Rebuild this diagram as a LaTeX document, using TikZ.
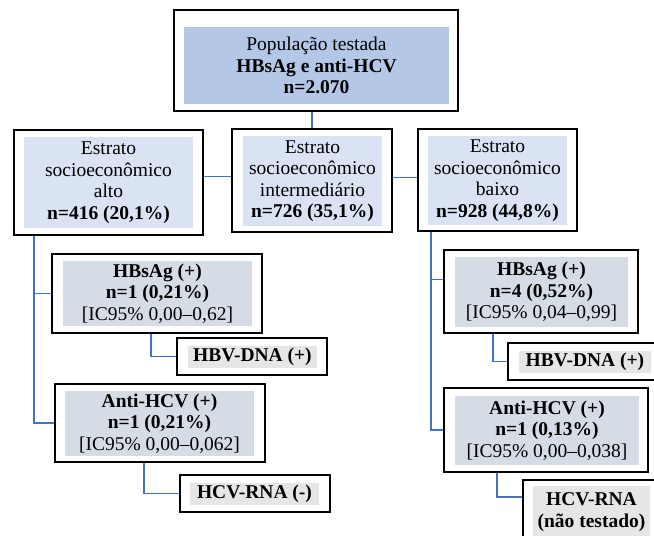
\documentclass[tikz,border=0pt]{standalone}
\usepackage{fontspec}
\setmainfont{Liberation Serif}
\definecolor{topfill}{HTML}{B4C7E7}
\definecolor{strfill}{HTML}{DAE3F3}
\definecolor{testfill}{HTML}{D6DCE5}
\definecolor{resfill}{HTML}{E7E6E6}
\definecolor{connblue}{HTML}{4472C4}
\tikzset{
  outerbox/.style={draw=black, line width=1.8pt, inner sep=0pt},
  innerbox/.style={inner sep=0pt, align=center, font=\fontsize{19.5}{21.5}\selectfont},
  conn/.style={draw=connblue, line width=1.3pt}
}
\begin{document}
\begin{tikzpicture}[x=1pt,y=-1pt]
\useasboundingbox (0,0) rectangle (654,536);
\clip (0,0) rectangle (654,536);
% outer boxes
\node[outerbox, minimum width=284pt, minimum height=101pt] (top) at (316,60.5) {};
\node[outerbox, minimum width=189pt, minimum height=105pt] (alto) at (108.5,182.5) {};
\node[outerbox, minimum width=160pt, minimum height=103pt] (mid) at (312,180.5) {};
\node[outerbox, minimum width=159pt, minimum height=102pt] (baixo) at (497.5,180) {};
\node[outerbox, minimum width=210pt, minimum height=79pt] (hbsL) at (157,293.5) {};
\node[outerbox, minimum width=150pt, minimum height=37pt] (hbvL) at (252,356.5) {};
\node[outerbox, minimum width=210pt, minimum height=78pt] (antiL) at (160,423) {};
\node[outerbox, minimum width=150pt, minimum height=37pt] (rnaL) at (255,493.5) {};
\node[outerbox, minimum width=194pt, minimum height=83pt] (hbsR) at (541,291.5) {};
\node[outerbox, minimum width=154pt, minimum height=37pt] (hbvR) at (585,361.5) {};
\node[outerbox, minimum width=204pt, minimum height=84pt] (antiR) at (546,430) {};
\node[outerbox, minimum width=137pt, minimum height=68pt] (rnaR) at (591.5,514) {};
% inner filled boxes with text
\node[innerbox, fill=topfill, minimum width=265pt, minimum height=77pt] (topi) at (316.5,65.5)
  {População testada\\\textbf{HBsAg e anti-HCV}\\\textbf{n=2.070}};
\node[innerbox, fill=strfill, minimum width=169pt, minimum height=91pt] (altoi) at (108.5,182.5)
  {Estrato\\socioeconômico\\alto\\\textbf{n=416 (20,1\%)}};
\node[innerbox, fill=strfill, minimum width=139pt, minimum height=90pt] (midi) at (312.5,181)
  {Estrato\\socioeconômico\\intermediário\\\textbf{n=726 (35,1\%)}};
\node[innerbox, fill=strfill, minimum width=139pt, minimum height=89pt] (baixoi) at (497.5,180.5)
  {Estrato\\socioeconômico\\baixo\\\textbf{n=928 (44,8\%)}};
\node[innerbox, fill=testfill, minimum width=189pt, minimum height=65pt] (hbsLi) at (157.5,293.5)
  {\textbf{HBsAg (+)}\\\textbf{n=1 (0,21\%)}\\{[}IC95\% 0,00–0,62{]}};
\node[innerbox, fill=resfill, minimum width=129pt, minimum height=22pt] (hbvLi) at (252.5,357)
  {\textbf{HBV-DNA (+)}};
\node[innerbox, fill=testfill, minimum width=189pt, minimum height=65pt] (antiLi) at (159.5,423.5)
  {\textbf{Anti-HCV (+)}\\\textbf{n=1 (0,21\%)}\\{[}IC95\% 0,00–0,062{]}};
\node[innerbox, fill=resfill, minimum width=129pt, minimum height=22pt] (rnaLi) at (254.5,494)
  {\textbf{HCV-RNA (-)}};
\node[innerbox, fill=testfill, minimum width=173pt, minimum height=70pt] (hbsRi) at (541.5,292)
  {\textbf{HBsAg (+)}\\\textbf{n=4 (0,52\%)}\\{[}IC95\% 0,04–0,99{]}};
\node[innerbox, fill=resfill, minimum width=132pt, minimum height=22pt] (hbvRi) at (585,362)
  {\textbf{HBV-DNA (+)}};
\node[innerbox, fill=testfill, minimum width=184pt, minimum height=69pt] (antiRi) at (547,430.5)
  {\textbf{Anti-HCV (+)}\\\textbf{n=1 (0,13\%)}\\{[}IC95\% 0,00–0,038{]}};
\node[innerbox, fill=resfill, minimum width=117pt, minimum height=52pt] (rnaRi) at (591.5,512)
  {\textbf{HCV-RNA}\\\textbf{(não testado)}};
% connectors
\draw[conn] (top.south -| mid.north) -- (mid.north);
\path ([yshift=6pt]alto.east) coordinate (ae);
\draw[conn] (ae) -- (ae -| mid.west);
\path ([yshift=3pt]mid.east) coordinate (me);
\draw[conn] (me) -- (me -| baixo.west);
\coordinate (lv) at ([xshift=-74.5pt]alto.south);
\draw[conn] (lv) |- (antiL.west);
\draw[conn] (lv |- hbsL.west) -- (hbsL.west);
\draw[conn] ([xshift=-6pt]hbsL.south) |- (hbvL.west);
\draw[conn] ([xshift=-16pt]antiL.south) |- (rnaL.west);
\coordinate (rv) at ([xshift=-66.5pt]baixo.south);
\draw[conn] (rv) |- (antiR.west);
\path ([yshift=12pt]hbsR.west) coordinate (hw);
\draw[conn] (rv |- hw) -- (hw);
\draw[conn] ([xshift=-48pt]hbsR.south) |- (hbvR.west);
\path ([yshift=17pt]rnaR.west) coordinate (rw);
\draw[conn] ([xshift=-49pt]antiR.south) |- (rw);
\end{tikzpicture}
\end{document}
